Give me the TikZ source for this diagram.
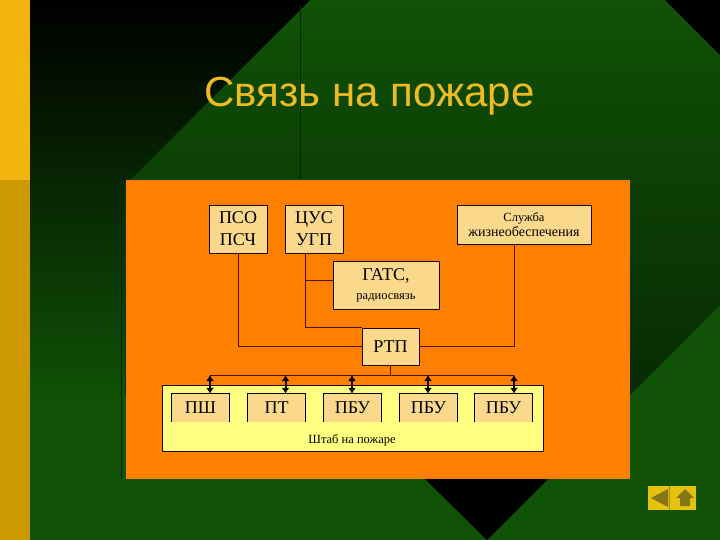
\documentclass[tikz,border=0pt]{standalone}
\usepackage{fontspec}
\setmainfont{Liberation Serif}
\newfontfamily\titlefont{Liberation Sans}
\usetikzlibrary{arrows.meta}
\definecolor{bgreen}{HTML}{105206}
\definecolor{bdark}{HTML}{082A03}
\definecolor{stripeA}{HTML}{F0B40C}
\definecolor{stripeB}{HTML}{CC9900}
\definecolor{panel}{HTML}{FF8000}
\definecolor{boxfill}{HTML}{FBD98C}
\definecolor{hqfill}{HTML}{FFFF80}
\definecolor{wire}{HTML}{4A0D00}
\definecolor{titlecol}{HTML}{EEBB22}
\definecolor{navfill}{HTML}{E6C20F}
\definecolor{navink}{HTML}{857718}
\tikzset{
  box/.style={draw=black!70!wire,line width=0.9pt,fill=boxfill,inner sep=0pt,align=center,text=black,font=\fontsize{18}{22}\selectfont},
  hq/.style={draw=black!70!wire,line width=0.9pt,fill=hqfill,inner sep=0pt},
  unit/.style={fill=boxfill,inner sep=0pt,minimum width=57pt,minimum height=28pt,font=\fontsize{18}{22}\selectfont},
  unitedge/.style={draw=black,line width=0.9pt},
  wireline/.style={draw=wire,line width=0.9pt},
  dbl/.style={draw=black!80!wire,line width=2pt,{Latex[length=6pt,width=8pt]}-{Latex[length=6pt,width=8pt]}},
  small/.style={font=\fontsize{12.5}{15}\selectfont}
}
\begin{document}
\begin{tikzpicture}[x=1pt,y=-1pt]
\useasboundingbox (0,0) rectangle (720,540);
% background
\fill[bgreen] (0,0) rectangle (720,540);
\shade[top color=bgreen,bottom color=bdark] (125,0) -- (720,0) -- (720,305) -- (630,395) -- (125,395) -- cycle;
\shade[top color=black,bottom color=bgreen] (30,0) -- (310,0) -- (125,185) -- (125,400) -- (30,400) -- cycle;
\fill[black] (665,0) -- (720,0) -- (720,55) -- cycle;
\fill[black] (424,478) -- (549,478) -- (487,540) -- cycle;
\draw[bdark,line width=0.7pt] (300,5) -- (300,180);
\draw[black!50!bgreen,line width=0.8pt] (121,176) -- (121,478);
% stripe
\fill[stripeA] (0,0) rectangle (30,180);
\fill[stripeB] (0,180) rectangle (30,540);
% title
\node[text=titlecol,font=\titlefont\fontsize{42}{46}\selectfont,inner sep=0pt,anchor=base] (title) at (369.5,107) {Связь на пожаре};
% panel
\fill[panel] (126,180) rectangle (630,479);
% boxes
\node[box,minimum width=58pt,minimum height=48pt] (pso) at (238,229) {ПСО\\ПСЧ};
\node[box,minimum width=58pt,minimum height=48pt] (cus) at (314,229) {ЦУС\\УГП};
\node[box,small,minimum width=134pt,minimum height=39pt] (slu) at (524,224.5) {Служба\\{\fontsize{14}{15}\selectfont жизнеобеспечения}};
\node[box,minimum width=106pt,minimum height=48pt] (gats) at (386,285) {ГАТС,\\[-3pt]{\fontsize{12.5}{15}\selectfont радиосвязь}};
\node[box,minimum width=57pt,minimum height=37pt] (rtp) at (390.5,346.5) {РТП};
\node[hq,minimum width=381pt,minimum height=66pt] (hq) at (352.5,418) {};
\node[unit] (u1) at (200.5,408) {ПШ};
\node[unit] (u2) at (276.5,408) {ПТ};
\node[unit] (u3) at (352.5,408) {ПБУ};
\node[unit] (u4) at (428.5,408) {ПБУ};
\node[unit] (u5) at (503.5,408) {ПБУ};
\foreach \u in {u1,u2,u3,u4,u5}
  \draw[unitedge] (\u.south west) -- (\u.north west) -- (\u.north east) -- (\u.south east);
\node[small,inner sep=0pt] (hqlabel) at (352,440) {Штаб на пожаре};
% bus coordinates
\coordinate (branch) at (305.5,280);
\coordinate (a1) at (210,375);
\coordinate (a2) at (285.5,375);
\coordinate (a3) at (352,375);
\coordinate (a4) at (428,375);
\coordinate (a5) at (514,375);
\coordinate (cusout) at (305.5,253);
\coordinate (sluout) at (514.5,244);
% connectors
\draw[wireline] (pso.south) |- (rtp.west);
\draw[wireline] (cusout) |- (rtp.north west);
\draw[wireline] (branch) -- (branch -| gats.west);
\draw[wireline] (sluout) |- (rtp.east);
\draw[wireline] (rtp.south) -- (rtp.south |- a1);
\draw[wireline] (a1) -- (a5);
\draw[dbl] (a1) -- (a1 |- u1.north);
\draw[dbl] (a2) -- (a2 |- u2.north);
\draw[dbl] (a3) -- (a3 |- u3.north);
\draw[dbl] (a4) -- (a4 |- u4.north);
\draw[dbl] (a5) -- (a5 |- u5.north);
% nav button
\fill[navfill] (648,486) rectangle (696,510);
\draw[navink!70!navfill,line width=0.7pt] (669,486) -- (669,510);
\fill[navink] (651,498) -- (668,489) -- (668,507) -- cycle;
\fill[navink] (676,498) -- (685,489) -- (694,498) -- (690,498) -- (690,506) -- (680,506) -- (680,498) -- cycle;
\end{tikzpicture}
\end{document}
